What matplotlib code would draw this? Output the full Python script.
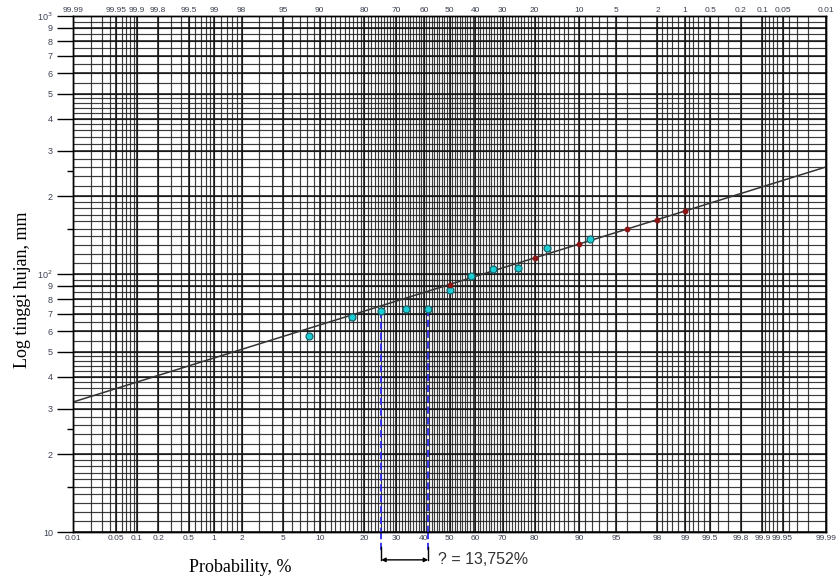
import numpy as np
import matplotlib.pyplot as plt
from statistics import NormalDist

# observed rainfall at Weibull plotting positions m/(n+1), n = 11
obs_prob = [8.33, 16.67, 25.0, 33.33, 41.67, 50.0, 58.33, 66.67, 75.0, 83.33, 91.67]
obs_mm = [57.5, 68, 72, 73.2, 73.2, 86.7, 98.2, 104.5, 105.5, 126, 136.7]

# fitted values (return periods 2, 5, 10, 25, 50, 100 yr)
fit_prob = [50, 80, 90, 96, 98, 99]
fit_mm = [91, 115.5, 130.7, 149.2, 162.6, 175.6]

# fitted straight line across the paper
line_prob = [0.01, 99.99]
line_mm = [31.9, 260]

# the two readings marked with dashed lines
mark_prob = [25.0, 41.67]
mark_mm = [72, 73.2]

prob_ticks = [0.01, 0.05, 0.1, 0.2, 0.5, 1, 2, 5, 10, 20, 30, 40, 50, 60, 70,
              80, 90, 95, 98, 99, 99.5, 99.8, 99.9, 99.95, 99.99]
y_ticks = [10, 20, 30, 40, 50, 60, 70, 80, 90, 100,
           200, 300, 400, 500, 600, 700, 800, 900, 1000]
y_labels = ["10", "2", "3", "4", "5", "6", "7", "8", "9", "10$^2$",
            "2", "3", "4", "5", "6", "7", "8", "9", "10$^3$"]

nd = NormalDist()


def prob_to_z(p):
    p = np.clip(np.asarray(p, dtype=float) / 100.0, 1e-9, 1 - 1e-9)
    out = [nd.inv_cdf(v) if np.isfinite(v) else np.nan for v in p.ravel()]
    return np.array(out).reshape(p.shape)


def z_to_prob(z):
    z = np.asarray(z, dtype=float)
    out = [nd.cdf(v) * 100.0 if np.isfinite(v) else np.nan for v in z.ravel()]
    return np.array(out).reshape(z.shape)


def fmt(v):
    return ("%g" % v)


plt.rcParams["font.family"] = ["Liberation Sans", "DejaVu Sans"]
lab_col = "#3c4152"

fig = plt.figure(figsize=(8.36, 5.79), dpi=100)
ax = fig.add_axes([73 / 836, 1 - 532 / 579, 753 / 836, 516 / 579])
ax.set_xscale("function", functions=(prob_to_z, z_to_prob))
ax.set_yscale("log")
ax.set_xlim(0.01, 99.99)
ax.set_ylim(10, 1000)

# ruling of the probability paper
half = np.concatenate([np.arange(0.01, 0.1, 0.01), np.arange(0.1, 1, 0.1),
                       np.arange(1, 2, 0.2), np.arange(2, 10, 1), np.arange(10, 50, 1)])
vgrid = np.concatenate([half, [50], 100 - half])
ax.vlines(vgrid, 0, 1, transform=ax.get_xaxis_transform(),
          colors="#1a1a1a", lw=0.85, alpha=0.85, zorder=1)
ax.vlines(prob_ticks, 0, 1, transform=ax.get_xaxis_transform(),
          colors="#111111", lw=1.1, zorder=1)

hgrid = []
for dec in (10, 100):
    for m in np.concatenate([np.arange(1, 2, 0.1), np.arange(2, 5, 0.2), np.arange(5, 10, 0.5)]):
        hgrid.append(dec * m)
ax.hlines(hgrid, 0, 1, transform=ax.get_yaxis_transform(),
          colors="#1a1a1a", lw=0.85, alpha=0.85, zorder=1)
ax.hlines(y_ticks, 0, 1, transform=ax.get_yaxis_transform(),
          colors="#111111", lw=1.1, zorder=1)

# fitted line, data points
ax.plot(line_prob, line_mm, color="#333333", lw=1.1, zorder=3)
ax.plot(obs_prob, obs_mm, "o", ms=5, mfc="#1ccfd6", mec="#17656b", mew=0.9, zorder=5)
ax.plot(fit_prob, fit_mm, "o", ms=3.2, mfc="#8b1414", mec="#8b1414", zorder=6)

# dashed readings down to the probability axis
xt = ax.get_xaxis_transform()
for p, v in zip(mark_prob, mark_mm):
    ax.plot([p, p], [v, 10], color="#2b2bf0", lw=1.3, dashes=(4, 2), zorder=4)
    ax.plot([p, p], [0, -0.04], color="#2b2bf0", lw=1.3, dashes=(4, 2),
            transform=xt, clip_on=False)
    ax.plot([p, p], [-0.03, -0.054], color="black", lw=1.0,
            transform=xt, clip_on=False)
ax.annotate("", xy=(mark_prob[0], -0.054), xytext=(mark_prob[1], -0.054),
            xycoords=xt, textcoords=xt,
            arrowprops=dict(arrowstyle="<|-|>", color="black", lw=1.0,
                            mutation_scale=6, shrinkA=0, shrinkB=0))
ax.annotate("? = 13,752%", xy=(mark_prob[1], -0.054), xycoords=xt,
            xytext=(7, 0), textcoords="offset points", va="center", ha="left",
            fontsize=11.5, color="#333333")

# axes, ticks
ax.set_xticks(prob_ticks)
ax.set_xticklabels([fmt(p) for p in prob_ticks])
ax.xaxis.set_minor_locator(plt.NullLocator())
ax.tick_params(axis="x", length=0, pad=2, labelsize=6, labelcolor=lab_col)

ax.set_yticks(y_ticks)
ax.set_yticklabels(y_labels)
ax.set_yticks([15, 25, 150, 250], minor=True)
ax.yaxis.set_minor_formatter(plt.NullFormatter())
ax.tick_params(axis="y", which="major", length=11.5, width=1.0, pad=3,
               labelsize=6.5, labelcolor=lab_col)
ax.tick_params(axis="y", which="minor", length=4.3, width=1.0)

top = ax.twiny()
top.set_xscale("function", functions=(prob_to_z, z_to_prob))
top.set_xlim(ax.get_xlim())
top.set_xticks(prob_ticks)
top.set_xticklabels([fmt(round(100 - p, 2)) for p in prob_ticks])
top.xaxis.set_minor_locator(plt.NullLocator())
top.tick_params(axis="x", length=0, pad=1.5, labelsize=6, labelcolor=lab_col)

for a in (ax, top):
    for s in a.spines.values():
        s.set_color("black")
        s.set_linewidth(1.0)

ax.set_xlabel("Probability, %", family="Liberation Serif", fontsize=13)
ax.xaxis.set_label_coords(0.222, -0.052)
ax.set_ylabel("Log tinggi hujan, mm", family="Liberation Serif", fontsize=13)
ax.yaxis.set_label_coords(-0.056, 0.47)

fig.savefig("out.png", dpi=100)
